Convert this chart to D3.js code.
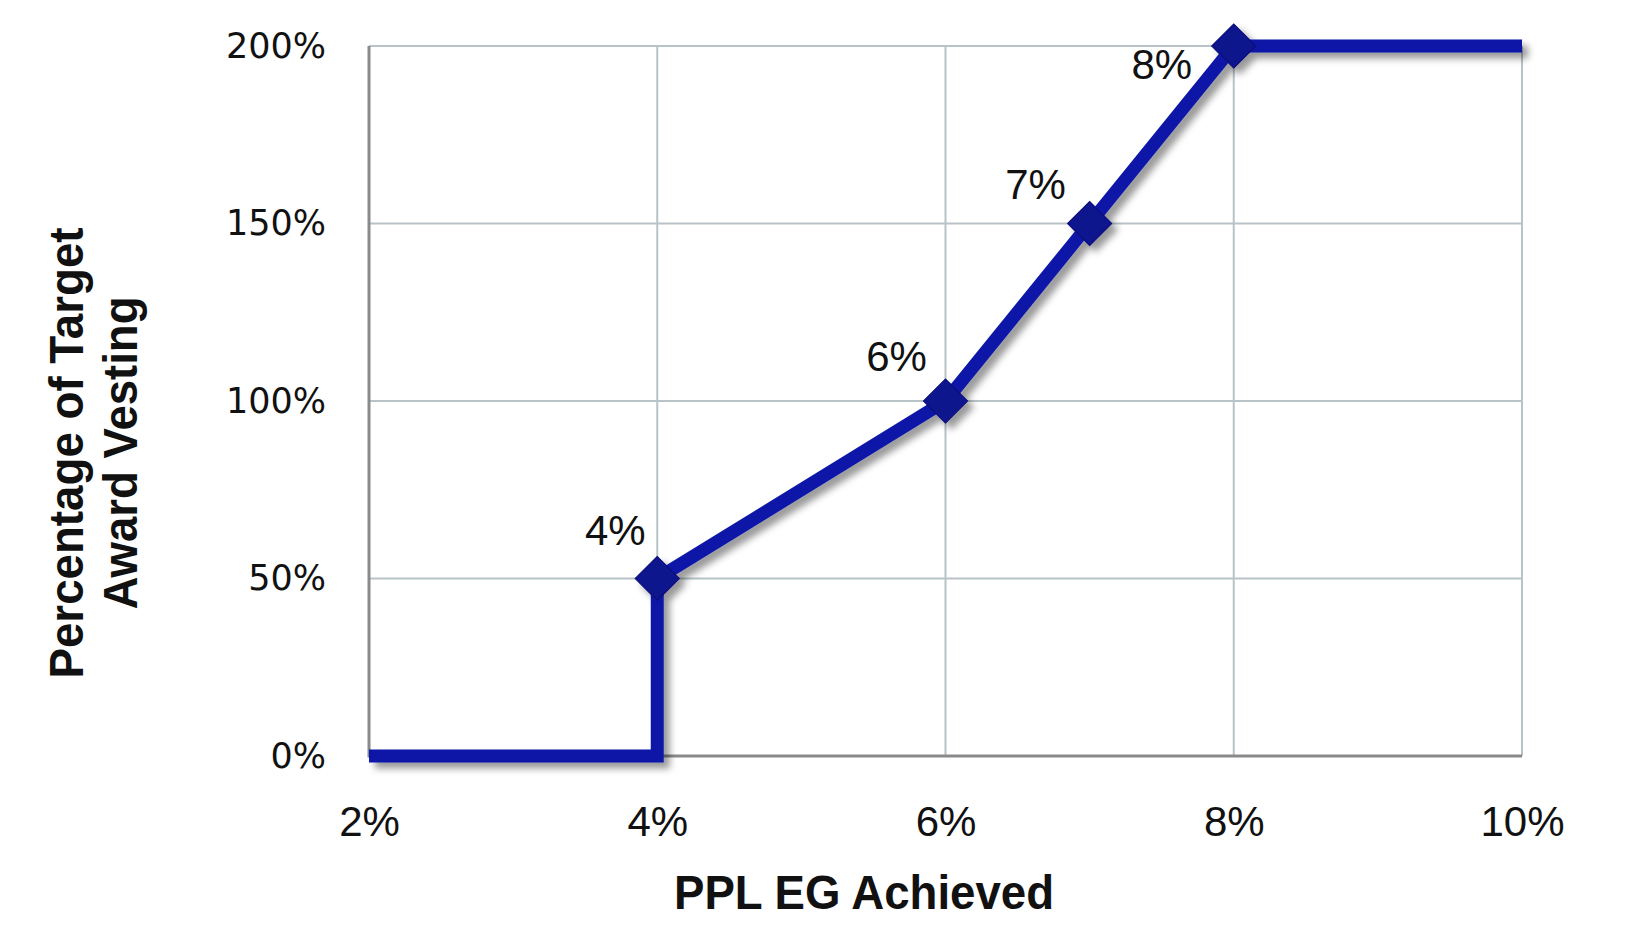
<!DOCTYPE html>
<html>
<head>
<meta charset="utf-8">
<script src="https://cdn.jsdelivr.net/npm/d3@7"></script>
<style>
  body { margin: 0; background: #fff; }
  svg { display: block; }
</style>
</head>
<body>
<div id="chart"></div>
<script>
// vesting curve
const growth = [2, 4, 4, 6, 7, 8, 10];
const vesting = [0, 0, 50, 100, 150, 200, 200];
// points that get a marker and label
const markerGrowth = [4, 6, 7, 8];
const markerVesting = [50, 100, 150, 200];
const markerLabels = ['4%', '6%', '7%', '8%'];
const xTicks = [2, 4, 6, 8, 10];
const yTicks = [0, 50, 100, 150, 200];

const width = 1626;
const height = 926;
const margin = { top: 46, right: 104, bottom: 170, left: 369 };

const usableArea = {
  top: margin.top,
  right: width - margin.right,
  bottom: height - margin.bottom,
  left: margin.left,
};

function createChart() {
  const svg = d3
    .select('#chart')
    .append('svg')
    .attr('width', width)
    .attr('height', height);

  const defs = svg.append('defs');
  defs
    .append('filter')
    .attr('id', 'shadow')
    .attr('x', '-10%').attr('y', '-10%')
    .attr('width', '130%').attr('height', '130%')
    .append('feDropShadow')
    .attr('dx', 6).attr('dy', 6)
    .attr('stdDeviation', 3.5)
    .attr('flood-color', '#000')
    .attr('flood-opacity', 0.4);

  const xScale = d3.scaleLinear().domain([2, 10]).range([usableArea.left, usableArea.right]);
  const yScale = d3.scaleLinear().domain([0, 200]).range([usableArea.bottom, usableArea.top]);

  // gridlines
  const grid = svg.append('g').attr('class', 'grid');
  grid.selectAll('line.h')
    .data(yTicks.filter((d) => d > 0))
    .join('line')
    .attr('class', 'h')
    .attr('x1', usableArea.left).attr('x2', usableArea.right)
    .attr('y1', (d) => yScale(d)).attr('y2', (d) => yScale(d))
    .attr('stroke', '#b7c3c7').attr('stroke-width', 2);
  grid.selectAll('line.v')
    .data(xTicks.filter((d) => d > 2))
    .join('line')
    .attr('class', 'v')
    .attr('y1', usableArea.top).attr('y2', usableArea.bottom)
    .attr('x1', (d) => xScale(d)).attr('x2', (d) => xScale(d))
    .attr('stroke', '#b7c3c7').attr('stroke-width', 2);

  // axes lines
  svg.append('line')
    .attr('x1', usableArea.left).attr('x2', usableArea.left)
    .attr('y1', usableArea.top).attr('y2', usableArea.bottom + 1.5)
    .attr('stroke', '#8a8a8a').attr('stroke-width', 3);
  svg.append('line')
    .attr('x1', usableArea.left).attr('x2', usableArea.right)
    .attr('y1', usableArea.bottom).attr('y2', usableArea.bottom)
    .attr('stroke', '#8a8a8a').attr('stroke-width', 3);

  // tick labels
  const yAxis = d3.axisLeft(yScale).tickValues(yTicks).tickSize(0).tickPadding(43)
    .tickFormat((d) => d + '%');
  svg.append('g')
    .attr('transform', `translate(${usableArea.left}, 0)`)
    .call(yAxis)
    .call((g) => g.select('.domain').remove())
    .selectAll('text')
    .attr('font-family', 'DejaVu Sans, Verdana, sans-serif')
    .attr('font-size', 35)
    .attr('fill', '#111');

  const xAxis = d3.axisBottom(xScale).tickValues(xTicks).tickSize(0).tickPadding(50)
    .tickFormat((d) => d + '%');
  svg.append('g')
    .attr('transform', `translate(0, ${usableArea.bottom})`)
    .call(xAxis)
    .call((g) => g.select('.domain').remove())
    .selectAll('text')
    .attr('font-family', 'Liberation Sans, Arial, sans-serif')
    .attr('font-size', 42)
    .attr('fill', '#111');

  // the curve
  const points = growth.map((g, i) => [g, vesting[i]]);
  const line = d3.line().x((d) => xScale(d[0])).y((d) => yScale(d[1]));

  const series = svg.append('g').attr('filter', 'url(#shadow)');
  series.append('path')
    .datum(points)
    .attr('d', line)
    .attr('fill', 'none')
    .attr('stroke', '#0b18a6')
    .attr('stroke-width', 13)
    .attr('stroke-linejoin', 'miter')
    .attr('stroke-linecap', 'butt');

  const markers = markerGrowth.map((g, i) => ({ g, v: markerVesting[i], label: markerLabels[i] }));
  const diamond = d3.symbol().type(d3.symbolSquare).size(980);
  series.selectAll('path.marker')
    .data(markers)
    .join('path')
    .attr('class', 'marker')
    .attr('d', diamond)
    .attr('transform', (d) => `translate(${xScale(d.g)}, ${yScale(d.v)}) rotate(45)`)
    .attr('fill', '#0b128c')
    .attr('stroke', '#0a0f7a')
    .attr('stroke-width', 1);

  // point labels (offsets relative to marker)
  const labelOffset = [[-42, -34], [-49, -30], [-54, -25], [-72, 33]];
  svg.selectAll('text.pt')
    .data(markers)
    .join('text')
    .attr('class', 'pt')
    .attr('x', (d, i) => xScale(d.g) + labelOffset[i][0])
    .attr('y', (d, i) => yScale(d.v) + labelOffset[i][1])
    .attr('text-anchor', 'middle')
    .attr('font-family', 'Liberation Sans, Arial, sans-serif')
    .attr('font-size', 42)
    .attr('fill', '#111')
    .text((d) => d.label);

  // axis titles
  svg.append('text')
    .attr('x', 864).attr('y', 909)
    .attr('text-anchor', 'middle')
    .attr('font-family', 'Liberation Sans Narrow, Liberation Sans, Arial, sans-serif')
    .attr('font-weight', 'bold')
    .attr('font-size', 49)
    .attr('textLength', 380)
    .attr('lengthAdjust', 'spacingAndGlyphs')
    .attr('fill', '#111')
    .text('PPL EG Achieved');

  const yTitle = svg.append('g').attr('transform', 'translate(0, 453) rotate(-90)');
  yTitle.append('text')
    .attr('x', 0).attr('y', 83)
    .attr('text-anchor', 'middle')
    .attr('font-family', 'Liberation Sans Narrow, Liberation Sans, Arial, sans-serif')
    .attr('font-weight', 'bold')
    .attr('font-size', 49)
    .attr('textLength', 451)
    .attr('lengthAdjust', 'spacingAndGlyphs')
    .attr('fill', '#111')
    .text('Percentage of Target');
  yTitle.append('text')
    .attr('x', 0).attr('y', 137)
    .attr('text-anchor', 'middle')
    .attr('font-family', 'Liberation Sans Narrow, Liberation Sans, Arial, sans-serif')
    .attr('font-weight', 'bold')
    .attr('font-size', 49)
    .attr('textLength', 313)
    .attr('lengthAdjust', 'spacingAndGlyphs')
    .attr('fill', '#111')
    .text('Award Vesting');
}

document.addEventListener('DOMContentLoaded', createChart);
</script>
</body>
</html>
